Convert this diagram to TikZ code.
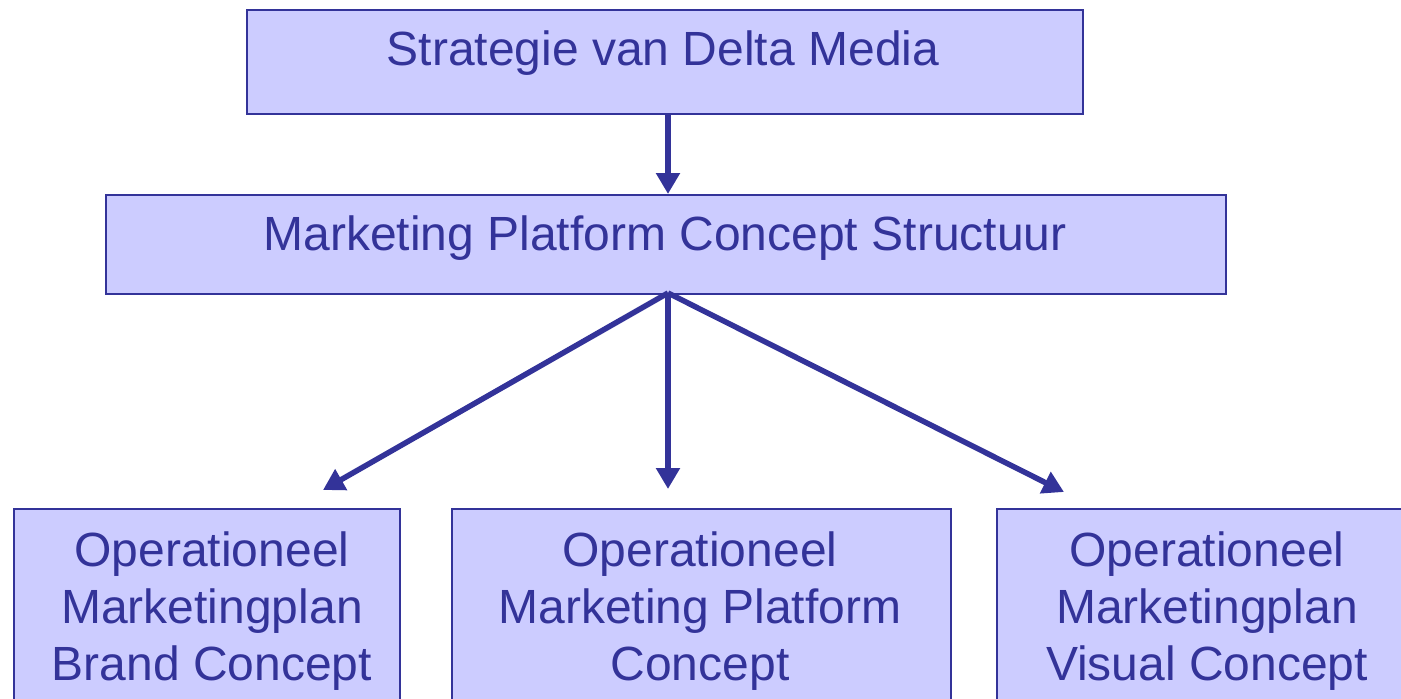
\documentclass[tikz,border=0pt]{standalone}
\usepackage{fontspec}
\setmainfont{Liberation Sans}
\usetikzlibrary{arrows.meta}
\definecolor{boxfill}{HTML}{CCCCFF}
\definecolor{ink}{HTML}{333399}
\tikzset{
  box/.style={draw=ink, fill=boxfill, line width=2.2pt, rectangle, inner sep=0pt, anchor=north west},
  lbl/.style={text=ink, inner sep=0pt, anchor=base, align=center, font=\fontsize{48}{57}\selectfont},
  conn/.style={draw=ink, line width=5.5pt, -{Triangle[length=21pt, width=23pt]}}
}
\begin{document}
\begin{tikzpicture}[x=1pt,y=-1pt]
\useasboundingbox (0,0) rectangle (1401,699);
\clip (0,0) rectangle (1401,699);
\node[box, minimum width=836pt, minimum height=104pt] (top) at (246,9) {};
\node[box, minimum width=1120pt, minimum height=99pt] (mid) at (105,194) {};
\node[box, minimum width=386pt, minimum height=260pt] (b1) at (13,508) {};
\node[box, minimum width=499pt, minimum height=260pt] (b2) at (451,508) {};
\node[box, minimum width=460pt, minimum height=260pt] (b3) at (996,508) {};
\node[lbl] (ttop) at (663,65) {Strategie van Delta Media};
\node[lbl] (tmid) at (665,250) {Marketing Platform Concept Structuur};
\node[lbl] (t1) at (212,680) {Operationeel\\Marketingplan\\Brand Concept};
\node[lbl] (t2) at (700,680) {Operationeel\\Marketing Platform\\Concept};
\node[lbl] (t3) at (1207,680) {Operationeel\\Marketingplan\\Visual Concept};
\coordinate (s) at (668,293);
\coordinate (e1) at (323,490);
\coordinate (e2) at (668,489);
\coordinate (e3) at (1064,492);
\draw[conn] (top.south -| s) -- (mid.north -| s);
\draw[conn] (s) -- (e1);
\draw[conn] (s) -- (e2);
\draw[conn] (s) -- (e3);
\end{tikzpicture}
\end{document}
